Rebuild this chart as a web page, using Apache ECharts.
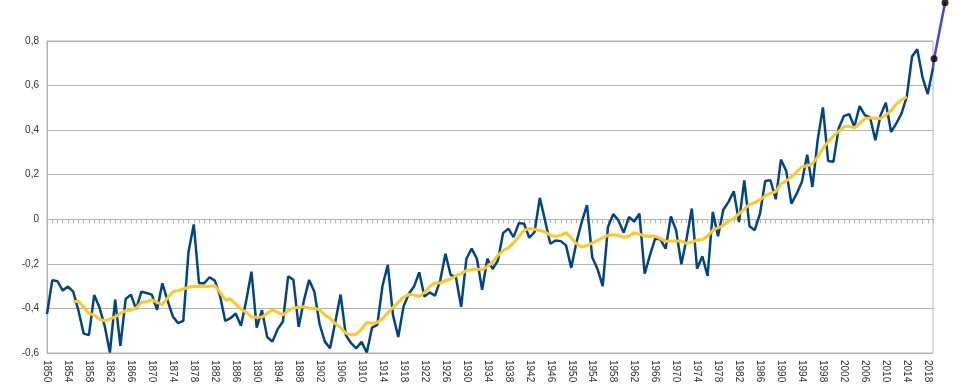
<!DOCTYPE html>
<html>
<head>
<meta charset="utf-8">
<script src="https://cdn.jsdelivr.net/npm/echarts@6/dist/echarts.min.js"></script>
<style>
html,body{margin:0;padding:0;background:#fff;}
#chart{width:960px;height:390px;}
</style>
</head>
<body>
<div id="chart"></div>
<script>
// Categories: years 1850..2019
var firstYear = 1850, lastYear = 2019;
var years = [];
for (var y = firstYear; y <= lastYear; y++) years.push(String(y));

// Annual anomaly values (blue), 1850..2019
var annual = [
  -0.425,-0.274,-0.278,-0.32,-0.302,-0.325,-0.41,-0.513,-0.52,-0.34,
  -0.395,-0.478,-0.598,-0.36,-0.568,-0.358,-0.338,-0.403,-0.325,-0.331,
  -0.338,-0.406,-0.287,-0.365,-0.436,-0.466,-0.456,-0.145,-0.023,-0.287,
  -0.287,-0.26,-0.275,-0.343,-0.456,-0.444,-0.423,-0.478,-0.365,-0.235,
  -0.486,-0.408,-0.528,-0.549,-0.493,-0.459,-0.256,-0.272,-0.483,-0.365,
  -0.272,-0.325,-0.471,-0.549,-0.579,-0.46,-0.338,-0.52,-0.556,-0.579,
  -0.55,-0.598,-0.486,-0.474,-0.298,-0.205,-0.43,-0.528,-0.392,-0.335,
  -0.302,-0.238,-0.347,-0.328,-0.343,-0.275,-0.155,-0.25,-0.26,-0.393,
  -0.177,-0.132,-0.177,-0.316,-0.177,-0.223,-0.185,-0.062,-0.042,-0.08,
  -0.017,-0.02,-0.083,-0.057,0.096,-0.005,-0.11,-0.095,-0.098,-0.117,
  -0.218,-0.102,-0.012,0.063,-0.17,-0.223,-0.3,-0.035,0.023,-0.005,
  -0.06,0.01,-0.01,0.025,-0.244,-0.162,-0.087,-0.09,-0.132,0.013,
  -0.05,-0.202,-0.087,0.048,-0.222,-0.166,-0.254,0.033,-0.076,0.043,
  0.078,0.126,-0.012,0.175,-0.031,-0.049,0.025,0.172,0.175,0.09,
  0.268,0.217,0.07,0.115,0.168,0.29,0.145,0.355,0.502,0.262,
  0.258,0.407,0.463,0.472,0.415,0.508,0.467,0.457,0.355,0.467,
  0.523,0.392,0.43,0.475,0.55,0.73,0.763,0.637,0.562,0.68
];

// Moving average (yellow), 1855..2014
var avgStart = 1855;
var movingAvg = [
  -0.37,-0.368,-0.395,-0.423,-0.429,
  -0.448,-0.456,-0.448,-0.438,-0.423,-0.41,-0.408,-0.398,-0.373,-0.37,
  -0.361,-0.373,-0.383,-0.353,-0.325,-0.32,-0.313,-0.305,-0.302,-0.3,
  -0.302,-0.3,-0.298,-0.328,-0.362,-0.358,-0.38,-0.403,-0.418,-0.438,
  -0.44,-0.438,-0.423,-0.406,-0.418,-0.429,-0.41,-0.398,-0.395,-0.392,
  -0.4,-0.4,-0.406,-0.429,-0.444,-0.468,-0.486,-0.511,-0.519,-0.516,
  -0.493,-0.463,-0.468,-0.463,-0.445,-0.421,-0.395,-0.373,-0.35,-0.338,
  -0.34,-0.347,-0.328,-0.302,-0.286,-0.286,-0.275,-0.268,-0.253,-0.245,
  -0.23,-0.226,-0.223,-0.227,-0.212,-0.192,-0.162,-0.14,-0.128,-0.105,
  -0.077,-0.05,-0.042,-0.045,-0.05,-0.057,-0.072,-0.077,-0.072,-0.06,
  -0.083,-0.11,-0.125,-0.117,-0.107,-0.095,-0.084,-0.072,-0.069,-0.072,
  -0.081,-0.076,-0.061,-0.067,-0.076,-0.076,-0.076,-0.087,-0.099,-0.097,
  -0.097,-0.097,-0.109,-0.102,-0.094,-0.091,-0.076,-0.049,-0.039,-0.027,
  -0.007,0.003,0.025,0.045,0.067,0.075,0.088,0.105,0.117,0.123,
  0.16,0.171,0.19,0.213,0.235,0.24,0.25,0.28,0.318,0.348,
  0.373,0.393,0.415,0.418,0.41,0.43,0.452,0.455,0.452,0.452,
  0.467,0.487,0.517,0.535,0.55
];

// Extension segment (purple): [year, value]; dots on the last two points
var extYears = [2019, 2019.2, 2021.3];
var extValues = [0.68, 0.72, 0.972];

// Y axis ticks
var yMin = -0.6, yMax = 0.8, yStep = 0.2;

var avgData = years.map(function (yr) {
  var i = Number(yr) - avgStart;
  return (i >= 0 && i < movingAvg.length) ? movingAvg[i] : null;
});
var extPairs = extYears.map(function (x, i) { return [x, extValues[i]]; });
var dotPairs = extPairs.slice(1);

var chart = echarts.init(document.getElementById('chart'), null, { renderer: 'canvas' });
var font = 'Liberation Sans, Arial, sans-serif';
chart.setOption({
  animation: false,
  backgroundColor: '#ffffff',
  grid: { left: 47, right: 27, top: 41, bottom: 37, show: true, borderColor: '#b3b3b3', borderWidth: 1, containLabel: false },
  xAxis: [{
    type: 'category',
    data: years,
    boundaryGap: false,
    axisLine: { show: true, lineStyle: { color: '#b3b3b3', width: 1 } },
    axisTick: { show: true, interval: 0, length: 4, inside: false, lineStyle: { color: '#b3b3b3' } },
    axisLabel: { interval: 3, rotate: -90, margin: 7, fontSize: 10, color: '#333', fontFamily: font },
    splitLine: { show: false }
  }, {
    type: 'value',
    min: firstYear,
    max: lastYear,
    show: false
  }],
  yAxis: {
    type: 'value',
    min: yMin, max: yMax, interval: yStep,
    axisLine: { show: true, lineStyle: { color: '#b3b3b3', width: 1 } },
    axisTick: { show: false },
    axisLabel: {
      margin: 8, fontSize: 10, color: '#333', fontFamily: font,
      formatter: function (v) { return Math.abs(v) < 1e-9 ? '0' : v.toFixed(1).replace('.', ','); }
    },
    splitLine: { show: true, lineStyle: { color: '#b3b3b3', width: 1 } }
  },
  series: [{
    type: 'line',
    data: annual,
    showSymbol: false,
    lineStyle: { color: '#004586', width: 2.5 },
    z: 3
  }, {
    type: 'line',
    data: avgData,
    showSymbol: false,
    connectNulls: false,
    lineStyle: { color: '#ffc825', width: 3 },
    z: 4
  }, {
    type: 'custom',
    xAxisIndex: 1,
    data: extPairs,
    clip: false,
    z: 5,
    renderItem: function (params, api) {
      var i = params.dataIndexInside;
      if (i === 0) return null;
      var p0 = api.coord([api.value(0, i - 1), api.value(1, i - 1)]);
      var p1 = api.coord([api.value(0, i), api.value(1, i)]);
      return {
        type: 'line',
        shape: { x1: p0[0], y1: p0[1], x2: p1[0], y2: p1[1] },
        style: { stroke: '#4646d8', lineWidth: 2.5, lineCap: 'round' }
      };
    }
  }, {
    type: 'scatter',
    xAxisIndex: 1,
    data: dotPairs,
    clip: false,
    symbol: 'circle',
    symbolSize: 7,
    itemStyle: { color: '#000' },
    z: 6
  }]
});
</script>
</body>
</html>
